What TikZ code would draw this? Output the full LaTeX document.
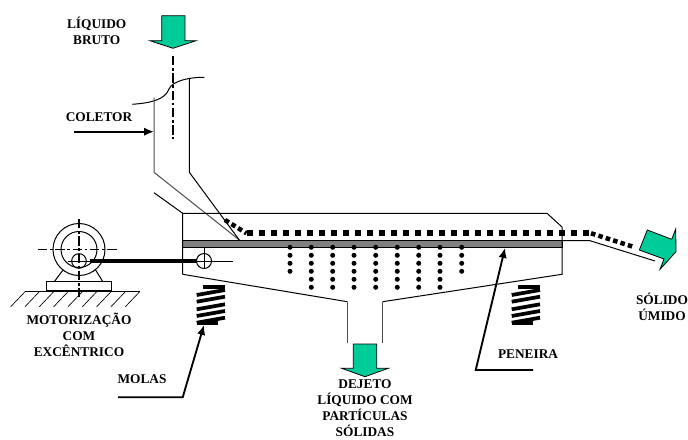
\documentclass[tikz,border=0pt]{standalone}
\usepackage{fontspec}
\setmainfont{Liberation Serif}
\usetikzlibrary{arrows.meta}
\definecolor{fluxo}{HTML}{00CC99}
\definecolor{tela}{HTML}{808080}
\tikzset{
  rotulo/.style={inner sep=0pt, align=center, font=\fontsize{10}{12}\selectfont\bfseries},
  fina/.style={line width=0.75pt, draw=black},
  fluxoseta/.style={fill=fluxo, draw=black, line width=0.6pt, line join=miter},
  eixo/.style={line width=1.1pt, dash pattern=on 7pt off 2pt on 2pt off 2pt},
  lider/.style={line width=1.4pt, -{Latex[length=2.6mm,width=2.2mm]}},
  mola/.style={line width=2.8pt},
  solido/.style={line width=4.4pt, dash pattern=on 4.4pt off 4.6pt},
  solidofino/.style={line width=3.4pt, dash pattern=on 3.4pt off 2.4pt},
}

\begin{document}
\begin{tikzpicture}[x=0.75pt,y=-0.75pt]
    \useasboundingbox (0,0) rectangle (688,439);
    % textos
    \node[rotulo] (bruto) at (96.7,30.5) {LÍQUIDO\\ BRUTO};
    \node[rotulo] (coletor) at (99,116.7) {COLETOR};
    \node[rotulo] (motor) at (79,335) {MOTORIZAÇÃO\\ COM\\ EXCÊNTRICO};
    \node[rotulo] (molas) at (142,379) {MOLAS};
    \node[rotulo] (peneira) at (528,354) {PENEIRA};
    \node[rotulo] (dejeto) at (365,408.5) {DEJETO\\ LÍQUIDO COM\\ PARTÍCULAS\\ SÓLIDAS};
    \node[rotulo] (umido) at (662,307.2) {SÓLIDO\\ ÚMIDO};
    % coletor
    \draw[fina] (132.3,104.3) .. controls (150,103) and (165,100) .. (169,89)
      .. controls (172,81) and (190,77) .. (204.3,77.3);
    \draw[fina, draw=black!70] (154,97.7) -- (154,172.3) -- (239.3,240);
    \draw[fina] (189.3,78) -- (189.3,172.3) -- (239.3,240);
    \draw[fina] (154,192.7) -- (182.7,213.3);
    \draw[eixo, line width=1.4pt] (173,56) -- (173,139);
    % peneira e caixa
    \draw[fill=tela, line width=0.75pt] (182.7,240.7) rectangle (562,247.7);
    \draw[fina] (182.7,274.3) -- (182.7,213.3) -- (547,213.3) -- (562,227) -- (562,274.3)
      -- (382.7,301.7);
    \draw[fina] (182.7,274.3) -- (347.3,301.7);
    \draw[fina, draw=black!70] (347.3,301.7) -- (347.3,342.7);
    \draw[fina, draw=black!70] (382.7,301.7) -- (382.7,342.7);
    \draw[fina] (562,240.7) -- (590,240.7) -- (655,261);
    % solido sobre a tela
    \draw[solidofino] (225,220) -- (246.5,233.3);
    \draw[solido] (247.2,233.3) -- (590,233.3);
    \draw[solidofino] (591,233.3) -- (633,246.7);
    % particulas
    \foreach \px in {311.3,332.7,354,375.7,397.3,418.7,440}
      \foreach \py in {247.3,255.3,263.3,271.3,279.3,287.3}
        \fill (\px,\py) circle (2.5);
    \foreach \px in {290,461.7}
      \foreach \py in {247.3,255.3,263.3,271.3}
        \fill (\px,\py) circle (2.5);
    % motor
    \draw[fina] (79,249.5) circle (26);
    \draw[fina] (79,249.5) circle (18);
    \draw[fina] (79,261) circle (7.3);
    \draw[fina] (54,282) -- (63,270);
    \draw[fina] (103,282) -- (95,269);
    \draw[fina] (46.7,281.7) rectangle (111,290.7);
    \draw[eixo] (38,249.5) -- (119,249.5);
    \draw[eixo] (79,219) -- (79,297);
    \draw[fina] (68,261) -- (90,261);
    \draw[line width=2.6pt] (90,261) -- (197,261);
    \draw[fina] (204,261) circle (7.5);
    \draw[fina] (197,261) -- (232.7,261);
    \draw[fina] (204,248) -- (204,268.5);
    % base
    \draw[fina] (25,291.7) -- (140,291.7);
    \foreach \hx in {25,39.3,53.7,68,82.3,96.7,111,125.3,139.7}
      \draw[line width=0.5pt] (\hx,291.7) -- (\hx-14.3,306.7);
    % molas
    \foreach \mx in {196.7,511.7} {
      \draw[mola] (\mx+6.6,287.3) -- (\mx+28.3,287.3);
      \foreach \my in {295,301.7,309.3,316,322.7}
        \draw[mola] (\mx,\my) -- (\mx+28.3,\my-5);
      \draw[mola] (\mx,322.7) -- (\mx+21,322.7);
    }
    % setas de fluxo
    \draw[fluxoseta] (161.7,15.7) -- (185,15.7) -- (185,40.7) -- (196,40.7) -- (173,48.3)
      -- (150,40.7) -- (161.7,40.7) -- cycle;
    \draw[fluxoseta] (353.3,344) -- (376.7,344) -- (376.7,368.3) -- (388.3,368.3) -- (365,376.7)
      -- (341.7,368.3) -- (353.3,368.3) -- cycle;
    \draw[fluxoseta] (647.3,230) -- (671.7,239.3) -- (675.7,229) -- (676,251.7) -- (660,269.3)
      -- (664,259) -- (639.3,250) -- cycle;
    % indicacoes
    \coordinate (coletorini) at (74.3,131.7);
    \coordinate (coletorfim) at (154,131.7);
    \draw[lider] (coletorini) -- (coletorfim);
    \coordinate (molasini) at (118,397.3);
    \coordinate (molasdob) at (182.7,397.3);
    \coordinate (molasfim) at (204,325);
    \draw[lider] (molasini) -- (molasdob) -- (molasfim);
    \coordinate (peneiraini) at (533,370);
    \coordinate (peneiradob) at (475.7,370);
    \coordinate (peneirafim) at (505,248);
    \draw[lider] (peneiraini) -- (peneiradob) -- (peneirafim);
  \end{tikzpicture}
\end{document}
